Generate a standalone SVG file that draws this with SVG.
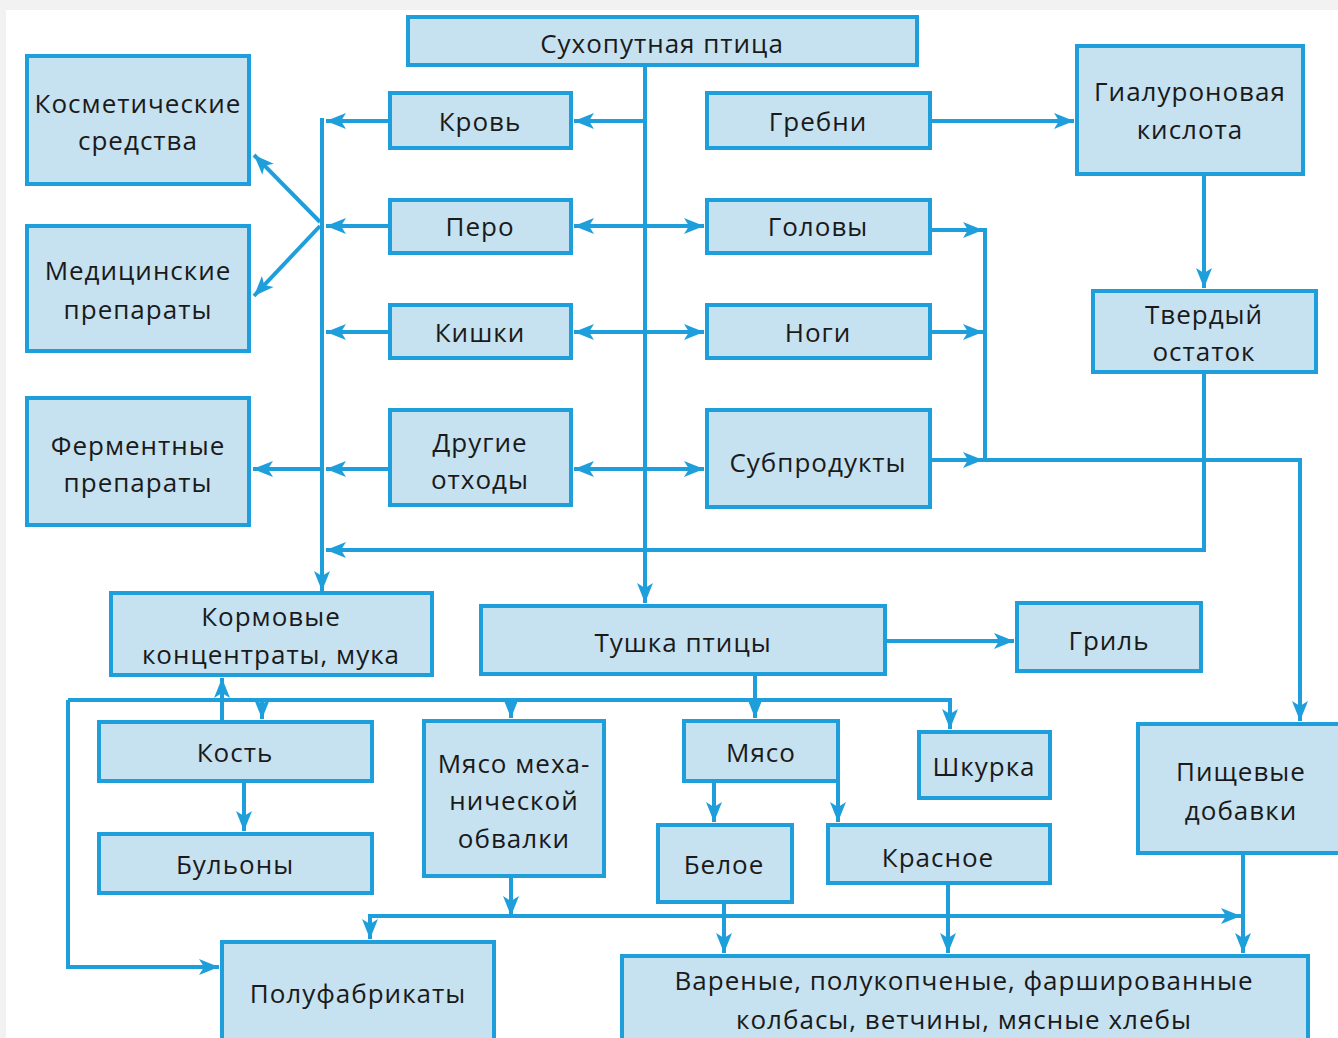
<svg xmlns="http://www.w3.org/2000/svg" width="1338" height="1038" viewBox="0 0 1338 1038">
<style>
.b{fill:#c6e1f0;stroke:#1e9fdc;stroke-width:4}
.t{font-family:"Open Sans","Noto Sans",sans-serif;font-size:26px;letter-spacing:1px;fill:#1a1a1a;text-anchor:middle;dominant-baseline:central}
.c path{fill:none;stroke:#1e9fdc;stroke-width:4}
.a{marker-end:url(#ah)}
.d{marker-start:url(#ah);marker-end:url(#ah)}
</style>
<defs>
<marker id="ah" markerUnits="userSpaceOnUse" markerWidth="22" markerHeight="18" refX="20" refY="8" orient="auto-start-reverse" viewBox="0 0 22 16">
<path d="M0,0 L20,8 L0,16 L5,8 Z" fill="#1e9fdc"/>
</marker>
</defs>
<rect width="1338" height="1038" fill="#fff"/>
<rect x="0" y="0" width="1338" height="10" fill="#f2f2f2"/>
<rect x="0" y="0" width="6" height="1038" fill="#f2f2f2"/>

<g class="c">
<path class="a" d="M645,65 V603"/>
<path class="a" d="M645,121 H574"/>
<path class="d" d="M574,226 H704"/>
<path class="d" d="M574,332 H704"/>
<path class="d" d="M574,469 H704"/>
<path class="a" d="M322,118 V591"/>
<path class="a" d="M388,121 H326"/>
<path class="a" d="M388,226 H326"/>
<path class="a" d="M388,332 H326"/>
<path class="a" d="M388,469 H326"/>
<path class="a" d="M322,469 H253"/>
<path class="a" d="M320,222 L254,155"/>
<path class="a" d="M320,226 L254,296"/>
<path class="a" d="M1204,372 V550 H326"/>
<path class="a" d="M932,121 H1074"/>
<path class="a" d="M1204,176 V288"/>
<path class="a" d="M932,230 H983"/>
<path class="a" d="M932,332 H983"/>
<path class="a" d="M932,460 H983"/>
<path class="a" d="M985,228 V460 H1300 V721"/>
<path class="a" d="M887,641 H1014"/>
<path d="M755,676 V700"/>
<path class="a" d="M68,700 H950 V729"/>
<path class="a" d="M262,700 V719"/>
<path class="a" d="M511,700 V718"/>
<path class="a" d="M755,700 V718"/>
<path class="a" d="M68,700 V967 H219"/>
<path class="a" d="M222,720 V678"/>
<path class="a" d="M244,783 V831"/>
<path class="a" d="M511,878 V916"/>
<path class="d" d="M1241,916 H370 V939"/>
<path class="a" d="M714,783 V822"/>
<path class="a" d="M838,783 V822"/>
<path class="a" d="M724,904 V953"/>
<path class="a" d="M948,885 V953"/>
<path class="a" d="M1243,855 V953"/>
</g>

<g id="n-suhoputnaya"><rect class="b" x="408" y="17" width="509" height="48"/><text class="t" x="662" y="43">Сухопутная птица</text></g>
<g id="n-krov"><rect class="b" x="390" y="93" width="181" height="55"/><text class="t" x="480" y="121">Кровь</text></g>
<g id="n-pero"><rect class="b" x="390" y="200" width="181" height="53"/><text class="t" x="480" y="226">Перо</text></g>
<g id="n-kishki"><rect class="b" x="390" y="305" width="181" height="53"/><text class="t" x="480" y="332">Кишки</text></g>
<g id="n-drugie"><rect class="b" x="390" y="410" width="181" height="95"/><text class="t" x="480" y="442">Другие</text><text class="t" x="480" y="479">отходы</text></g>
<g id="n-grebni"><rect class="b" x="707" y="93" width="223" height="55"/><text class="t" x="818" y="121">Гребни</text></g>
<g id="n-golovy"><rect class="b" x="707" y="200" width="223" height="53"/><text class="t" x="818" y="226">Головы</text></g>
<g id="n-nogi"><rect class="b" x="707" y="305" width="223" height="53"/><text class="t" x="818" y="332">Ноги</text></g>
<g id="n-subprodukty"><rect class="b" x="707" y="410" width="223" height="97"/><text class="t" x="818" y="462">Субпродукты</text></g>
<g id="n-gialuron"><rect class="b" x="1077" y="46" width="226" height="128"/><text class="t" x="1190" y="91">Гиалуроновая</text><text class="t" x="1190" y="129">кислота</text></g>
<g id="n-tverdy"><rect class="b" x="1093" y="291" width="223" height="81"/><text class="t" x="1204" y="314">Твердый</text><text class="t" x="1204" y="351">остаток</text></g>
<g id="n-kosmet"><rect class="b" x="27" y="56" width="222" height="128"/><text class="t" x="138" y="103">Косметические</text><text class="t" x="138" y="140">средства</text></g>
<g id="n-medic"><rect class="b" x="27" y="226" width="222" height="125"/><text class="t" x="138" y="270">Медицинские</text><text class="t" x="138" y="309">препараты</text></g>
<g id="n-ferment"><rect class="b" x="27" y="398" width="222" height="127"/><text class="t" x="138" y="445">Ферментные</text><text class="t" x="138" y="482">препараты</text></g>
<g id="n-kormovye"><rect class="b" x="111" y="593" width="321" height="82"/><text class="t" x="271" y="616">Кормовые</text><text class="t" x="271" y="654">концентраты, мука</text></g>
<g id="n-tushka"><rect class="b" x="481" y="606" width="404" height="68"/><text class="t" x="683" y="642">Тушка птицы</text></g>
<g id="n-gril"><rect class="b" x="1017" y="603" width="184" height="68"/><text class="t" x="1109" y="640">Гриль</text></g>
<g id="n-pishchevye"><rect class="b" x="1138" y="724" width="210" height="129"/><text class="t" x="1241" y="771">Пищевые</text><text class="t" x="1241" y="810">добавки</text></g>
<g id="n-kost"><rect class="b" x="99" y="722" width="273" height="59"/><text class="t" x="235" y="752">Кость</text></g>
<g id="n-bulony"><rect class="b" x="99" y="834" width="273" height="59"/><text class="t" x="235" y="864">Бульоны</text></g>
<g id="n-myaso-meh"><rect class="b" x="424" y="721" width="180" height="155"/><text class="t" x="514" y="763">Мясо меха-</text><text class="t" x="514" y="800">нической</text><text class="t" x="514" y="838">обвалки</text></g>
<g id="n-myaso"><rect class="b" x="684" y="721" width="154" height="60"/><text class="t" x="761" y="752">Мясо</text></g>
<g id="n-shkurka"><rect class="b" x="919" y="732" width="131" height="66"/><text class="t" x="984" y="766">Шкурка</text></g>
<g id="n-beloe"><rect class="b" x="658" y="825" width="134" height="77"/><text class="t" x="724" y="864">Белое</text></g>
<g id="n-krasnoe"><rect class="b" x="828" y="825" width="222" height="58"/><text class="t" x="938" y="857">Красное</text></g>
<g id="n-polufabrikaty"><rect class="b" x="222" y="942" width="272" height="110"/><text class="t" x="358" y="993">Полуфабрикаты</text></g>
<g id="n-varenye"><rect class="b" x="622" y="956" width="686" height="96"/><text class="t" x="964" y="980">Вареные, полукопченые, фаршированные</text><text class="t" x="964" y="1019">колбасы, ветчины, мясные хлебы</text></g>
</svg>
